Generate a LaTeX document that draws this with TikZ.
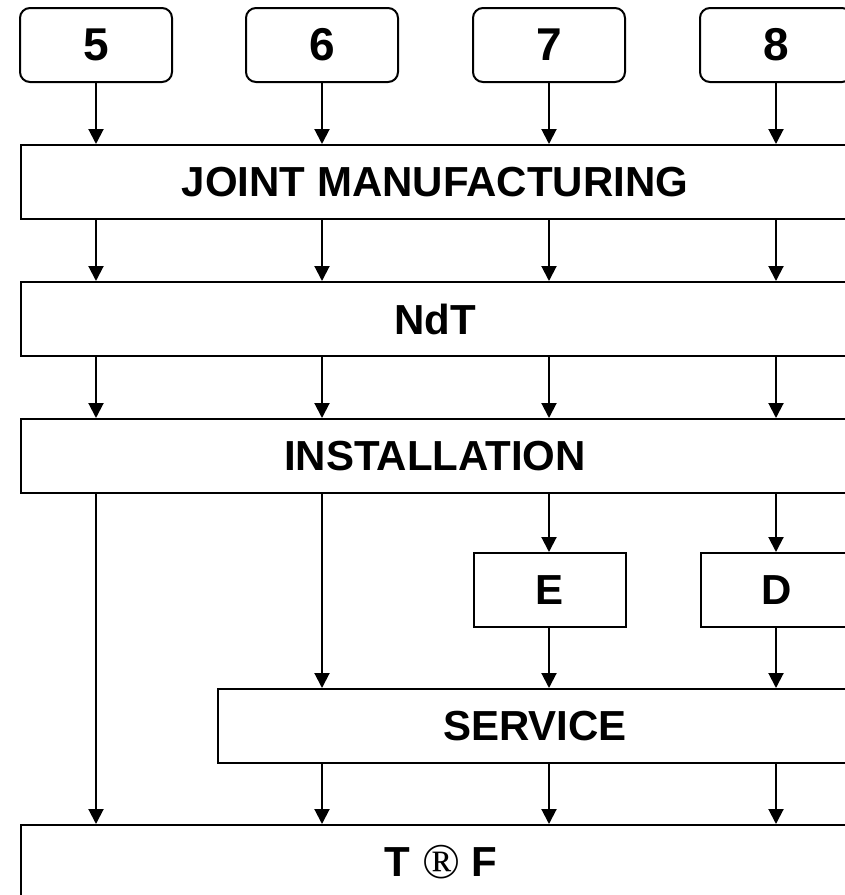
\documentclass[tikz,border=0pt]{standalone}
\usepackage{fontspec}
\setmainfont{Liberation Sans}
\newfontfamily\symfont{Liberation Serif}
\usetikzlibrary{arrows.meta}

\tikzset{
	topbox/.style={draw, rounded corners=10pt, minimum width=152pt, minimum height=74pt,
		inner sep=0pt, font=\fontsize{46}{46}\selectfont\bfseries},
	stagebox/.style={draw, minimum height=74pt, inner sep=0pt, anchor=north west,
		font=\fontsize{42}{42}\selectfont\bfseries},
	flow/.style={-{Triangle[width=15pt,length=15pt]}},
}

\begin{document}
\begin{tikzpicture}[x=1pt, y=-1pt, line width=2pt]
	
	% Frame
	\useasboundingbox (0,0) rectangle (845,895);
	\clip (0,0) rectangle (845,895);
	
	% Sources
	\node[topbox] (n5) at (96,45) {5};
	\node[topbox] (n6) at (322,45) {6};
	\node[topbox] (n7) at (549,45) {7};
	\node[topbox] (n8) at (776,45) {8};
	
	% Stages
	\node[stagebox, minimum width=828pt] (joint) at (20,144) {JOINT MANUFACTURING};
	\node[stagebox, minimum width=828pt] (ndt) at (20,281) {NdT};
	\node[stagebox, minimum width=828pt] (inst) at (20,418) {INSTALLATION};
	\node[stagebox, minimum width=152pt] (e) at (473,552) {E};
	\node[stagebox, minimum width=152pt] (d) at (700,552) {D};
	\node[stagebox, minimum width=634pt] (serv) at (217,688) {SERVICE};
	\node[stagebox, minimum width=840pt] (tf) at (20,824)
		{T {\symfont\mdseries\fontsize{50}{50}\selectfont\raisebox{-2pt}{\textregistered}} F};
	
	% Arrows down the columns
	\foreach \c in {5,...,8} {
		\draw[flow] (n\c.south) -- (n\c.south |- joint.north);
		\draw[flow] (n\c.south |- joint.south) -- (n\c.south |- ndt.north);
		\draw[flow] (n\c.south |- ndt.south) -- (n\c.south |- inst.north);
	}
	\draw[flow] (n5.south |- inst.south) -- (n5.south |- tf.north);
	\draw[flow] (n6.south |- inst.south) -- (n6.south |- serv.north);
	\draw[flow] (n7.south |- inst.south) -- (n7.south |- e.north);
	\draw[flow] (n8.south |- inst.south) -- (n8.south |- d.north);
	\draw[flow] (n7.south |- e.south) -- (n7.south |- serv.north);
	\draw[flow] (n8.south |- d.south) -- (n8.south |- serv.north);
	\foreach \c in {6,7,8} {
		\draw[flow] (n\c.south |- serv.south) -- (n\c.south |- tf.north);
	}
	
\end{tikzpicture}
\end{document}
